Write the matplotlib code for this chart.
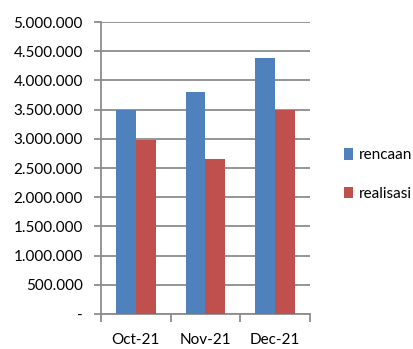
import numpy as np
import matplotlib.pyplot as plt
from matplotlib.ticker import FuncFormatter, FixedLocator

# data
categories = ['Oct-21', 'Nov-21', 'Dec-21']
rencaan = [3500000, 3800000, 4380000]
realisasi = [2980000, 2660000, 3490000]
y_ticks = np.arange(0, 5000001, 500000)

plt.rcParams['font.family'] = ['Lato', 'DejaVu Sans']

fig = plt.figure(figsize=(4.13, 3.49), dpi=100)
ax = fig.add_axes([101 / 413, 35 / 349, 209 / 413, 292 / 349])

x = np.arange(len(categories))
w = 0.287
ax.bar(x - w / 2, rencaan, w, color='#4F81BD', label='rencaan', zorder=3)
ax.bar(x + w / 2, realisasi, w, color='#C0504D', label='realisasi', zorder=3)

ax.set_xlim(-0.5, 2.5)
ax.set_ylim(0, 5000000)
ax.set_yticks(y_ticks)


def fmt(v, pos):
    if v == 0:
        return '-'
    return f'{int(v):,}'.replace(',', '.')


ax.yaxis.set_major_formatter(FuncFormatter(fmt))
ax.yaxis.grid(True, color='#8c8c8c', linewidth=1.3, zorder=0)
ax.set_axisbelow(True)

ax.set_xticks(x)
ax.set_xticklabels(categories)
ax.xaxis.set_minor_locator(FixedLocator([-0.5, 0.5, 1.5, 2.5]))
ax.tick_params(axis='x', which='major', length=0, pad=14, labelsize=11)
ax.tick_params(axis='x', which='minor', length=6, width=1.3, color='#8c8c8c')
ax.tick_params(axis='y', length=5, width=1.3, color='#8c8c8c', labelsize=11, pad=8)

for s in ['top', 'right']:
    ax.spines[s].set_visible(False)
for s in ['left', 'bottom']:
    ax.spines[s].set_color('#8c8c8c')
    ax.spines[s].set_linewidth(1.3)

ax.legend(loc='center left', bbox_to_anchor=(330 / 413, 0.5), bbox_transform=fig.transFigure,
          frameon=False, fontsize=11, handlelength=0.6, handleheight=0.8,
          handletextpad=0.4, labelspacing=1.6)

fig.savefig('out.png', dpi=100)
